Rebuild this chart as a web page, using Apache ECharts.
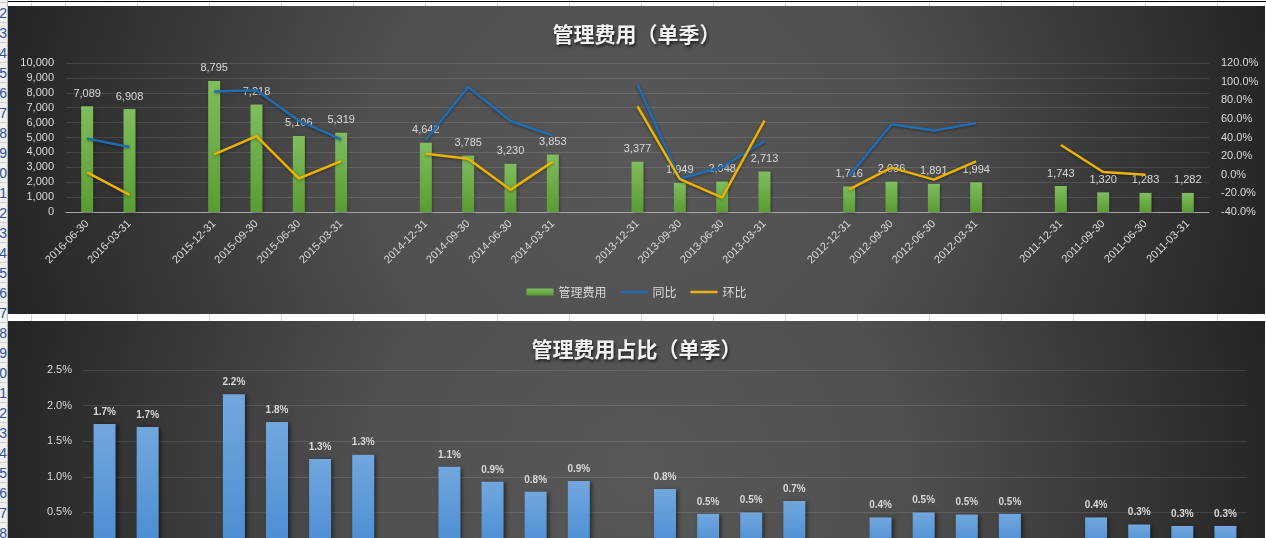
<!DOCTYPE html>
<html lang="zh-CN">

<head>
    <meta charset="UTF-8">
    <title>管理费用</title>
    <script src="https://cdn.jsdelivr.net/npm/echarts@6.0.0/dist/echarts.min.js"></script>
    <style>
        html, body {
            margin: 0;
            padding: 0;
            width: 1266px;
            height: 538px;
            overflow: hidden;
            background: #fff;
        }

        /* excel column lines behind the charts */
        #sheet {
            position: absolute;
            left: 8px;
            top: 0;
            width: 1258px;
            height: 538px;
            background-image: repeating-linear-gradient(90deg, #d6d6d6 0 1px, transparent 1px 72px);
            background-position: 57px 0;
        }

        #topline {
            position: absolute;
            left: 0;
            top: 1px;
            width: 1266px;
            height: 1px;
            background: #000;
        }

        #rowhead {
            position: absolute;
            left: 0;
            top: -17px;
            width: 7px;
            height: 600px;
            overflow: hidden;
            background: #f0f0f0;
            border-right: 1px solid #b8b8b8;
        }

        #rowhead div {
            height: 19px;
            border-bottom: 1px solid #d0d0d0;
            text-align: right;
            font: 14px 'Liberation Sans', sans-serif;
            line-height: 20px;
            color: #2f4f9f;
            white-space: nowrap;
            direction: rtl;
        }

        .chart {
            position: absolute;
            left: 8px;
            width: 1257px;
            background: radial-gradient(ellipse 660px 620px at 50% 50%, #585858 0%, #4f4f4f 42%, #232323 100%);
        }

        #main {
            top: 6px;
            height: 308px;
        }

        #ratio {
            top: 321px;
            height: 300px;
        }
    </style>
</head>

<body>
    <div id="sheet"></div>
    <div id="topline"></div>
    <div id="rowhead"></div>
    <div id="main" class="chart"></div>
    <div id="ratio" class="chart"></div>
    <script>
        // 季度（空字符串是年份之间的空档）
        const categories = [
            '2016-06-30', '2016-03-31', '',
            '2015-12-31', '2015-09-30', '2015-06-30', '2015-03-31', '',
            '2014-12-31', '2014-09-30', '2014-06-30', '2014-03-31', '',
            '2013-12-31', '2013-09-30', '2013-06-30', '2013-03-31', '',
            '2012-12-31', '2012-09-30', '2012-06-30', '2012-03-31', '',
            '2011-12-31', '2011-09-30', '2011-06-30', '2011-03-31'
        ];

        // 管理费用（单季）
        const expense = [7089, 6908, null,
            8795, 7218, 5106, 5319, null,
            4642, 3785, 3230, 3853, null,
            3377, 1949, 2048, 2713, null,
            1716, 2036, 1891, 1994, null,
            1743, 1320, 1283, 1282];

        // 同比 (%)
        const yoy = [38.8, 29.9, null,
            89.5, 90.7, 58.1, 38.0, null,
            37.5, 94.2, 57.7, 42.0, null,
            96.8, -4.3, 8.3, 36.1, null,
            -1.5, 54.2, 47.4, 55.5, null,
            null, null, null, null];

        // 环比 (%)
        const qoq = [2.6, -21.5, null,
            21.8, 41.4, -4.0, 14.6, null,
            22.6, 17.2, -16.2, 14.1, null,
            73.3, -4.8, -24.5, 58.1, null,
            -15.7, 7.7, -5.2, 14.4, null,
            32.0, 2.9, 0.1, null];

        // 管理费用占比 (%)
        const ratio = [1.74, 1.70, null,
            2.16, 1.77, 1.25, 1.31, null,
            1.14, 0.93, 0.79, 0.94, null,
            0.83, 0.48, 0.50, 0.66, null,
            0.43, 0.50, 0.47, 0.48, null,
            0.43, 0.33, 0.31, 0.31];

        // row numbers of the sheet on the left edge
        const rowhead = document.getElementById('rowhead');
        for (let r = 11; r <= 40; r++) {
            const d = document.createElement('div');
            d.textContent = r;
            rowhead.appendChild(d);
        }

        const font = "'Liberation Sans', 'Noto Sans CJK SC', sans-serif";
        const labelColor = '#d9d9d9';
        const gridColor = 'rgba(255,255,255,0.11)';

        const mainChart = echarts.init(document.getElementById('main'));
        const ratioChart = echarts.init(document.getElementById('ratio'));

        const titleStyle = {
            color: '#f2f2f2',
            fontSize: 21,
            fontWeight: 'bold',
            fontFamily: "'Noto Sans CJK SC', sans-serif",
            textShadowColor: 'rgba(0,0,0,0.7)',
            textShadowBlur: 3,
            textShadowOffsetX: 1,
            textShadowOffsetY: 2
        };

        mainChart.setOption({
            backgroundColor: 'transparent',
            textStyle: { fontFamily: font },
            title: {
                text: '管理费用（单季）',
                left: 'center',
                top: 13,
                textStyle: titleStyle
            },
            legend: {
                bottom: 11,
                left: 'center',
                itemWidth: 27,
                itemHeight: 7,
                itemGap: 14,
                textStyle: { color: labelColor, fontSize: 12, fontFamily: "'Noto Sans CJK SC', sans-serif" },
                data: [
                    { name: '管理费用', icon: 'rect' },
                    { name: '同比', icon: 'path://M0,0H27V2.5H0Z' },
                    { name: '环比', icon: 'path://M0,0H27V2.5H0Z' }
                ]
            },
            grid: { left: 58, right: 56, top: 57, bottom: 102 },
            xAxis: {
                type: 'category',
                data: categories,
                axisLine: { lineStyle: { color: '#a6a6a6' } },
                axisTick: { show: false },
                axisLabel: { interval: 0, rotate: 45, margin: 10, color: labelColor, fontSize: 11 }
            },
            yAxis: [
                {
                    type: 'value',
                    min: 0,
                    max: 10000,
                    interval: 1000,
                    axisLabel: {
                        color: labelColor,
                        fontSize: 11,
                        margin: 12,
                        formatter: v => v.toLocaleString('en-US')
                    },
                    splitLine: { lineStyle: { color: gridColor } }
                },
                {
                    type: 'value',
                    min: -40,
                    max: 120,
                    interval: 20,
                    axisLabel: {
                        color: labelColor,
                        fontSize: 11,
                        margin: 12,
                        formatter: v => v.toFixed(1) + '%'
                    },
                    splitLine: { show: false }
                }
            ],
            series: [
                {
                    name: '管理费用',
                    type: 'bar',
                    barWidth: 12,
                    data: expense,
                    itemStyle: {
                        color: new echarts.graphic.LinearGradient(0, 0, 0, 1, [
                            { offset: 0, color: '#7fbd5e' },
                            { offset: 1, color: '#5a9c33' }
                        ]),
                        shadowColor: 'rgba(0,0,0,0.4)',
                        shadowBlur: 3,
                        shadowOffsetX: 1,
                        shadowOffsetY: 1
                    },
                    label: {
                        show: true,
                        position: 'top',
                        distance: 7,
                        color: labelColor,
                        fontSize: 11,
                        formatter: p => p.value.toLocaleString('en-US')
                    }
                },
                {
                    name: '同比',
                    type: 'line',
                    yAxisIndex: 1,
                    data: yoy,
                    symbol: 'none',
                    connectNulls: false,
                    color: '#1f6db3',
                    lineStyle: { width: 2.5, shadowColor: 'rgba(0,0,0,0.4)', shadowBlur: 3, shadowOffsetY: 1 }
                },
                {
                    name: '环比',
                    type: 'line',
                    yAxisIndex: 1,
                    data: qoq,
                    symbol: 'none',
                    connectNulls: false,
                    color: '#eeb200',
                    lineStyle: { width: 2.5, shadowColor: 'rgba(0,0,0,0.4)', shadowBlur: 3, shadowOffsetY: 1 }
                }
            ]
        });

        ratioChart.setOption({
            backgroundColor: 'transparent',
            textStyle: { fontFamily: font },
            title: {
                text: '管理费用占比（单季）',
                left: 'center',
                top: 13,
                textStyle: titleStyle
            },
            grid: { left: 75, right: 18, top: 49, bottom: 73 },
            xAxis: {
                type: 'category',
                data: categories,
                axisLine: { lineStyle: { color: '#a6a6a6' } },
                axisTick: { show: false },
                axisLabel: { interval: 0, rotate: 45, margin: 10, color: labelColor, fontSize: 11 }
            },
            yAxis: {
                type: 'value',
                min: 0,
                max: 2.5,
                interval: 0.5,
                axisLabel: {
                    color: labelColor,
                    fontSize: 11,
                    margin: 11,
                    formatter: v => v.toFixed(1) + '%'
                },
                splitLine: { lineStyle: { color: gridColor } }
            },
            series: [
                {
                    name: '管理费用占比',
                    type: 'bar',
                    barWidth: 22,
                    data: ratio,
                    itemStyle: {
                        color: new echarts.graphic.LinearGradient(0, 0, 0, 1, [
                            { offset: 0, color: '#72a7de' },
                            { offset: 1, color: '#4a8dd2' }
                        ]),
                        shadowColor: 'rgba(0,0,0,0.5)',
                        shadowBlur: 4,
                        shadowOffsetX: 2,
                        shadowOffsetY: 1
                    },
                    label: {
                        show: true,
                        position: 'top',
                        distance: 7,
                        color: labelColor,
                        fontSize: 10,
                        fontWeight: 'bold',
                        formatter: p => p.value.toFixed(1) + '%'
                    }
                }
            ]
        });

        window.addEventListener('resize', function () {
            mainChart.resize();
            ratioChart.resize();
        });
    </script>
</body>

</html>
